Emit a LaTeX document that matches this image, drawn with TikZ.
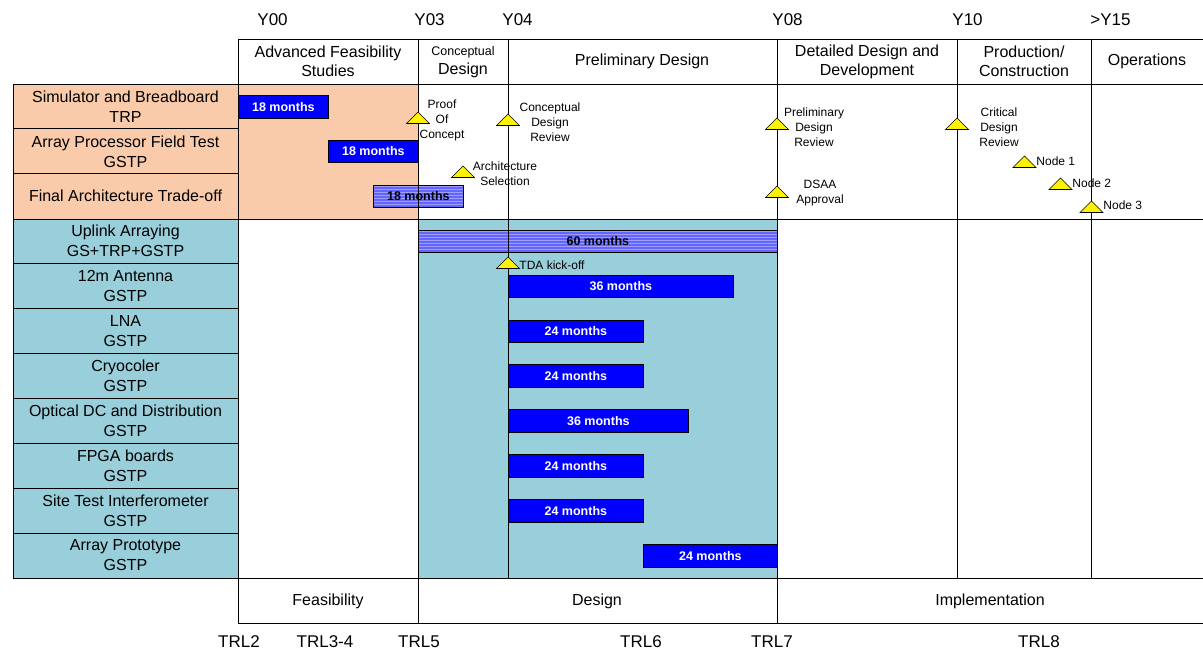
\documentclass[tikz,border=0pt]{standalone}
\usepackage{fontspec}
\setmainfont{Liberation Sans}
\usepackage{xcolor}

\definecolor{peach}{RGB}{249,203,170}
\definecolor{paleteal}{RGB}{153,206,219}
\definecolor{stripedark}{RGB}{100,100,255}
\definecolor{stripelight}{RGB}{158,158,255}

\begin{document}
\begin{tikzpicture}[x=1pt, y=-1pt, line width=0.9pt,
  yearlbl/.style={anchor=west, inner sep=0pt, font=\fontsize{17}{20}\selectfont},
  phase/.style={align=center, inner sep=0pt, font=\fontsize{16}{19}\selectfont},
  task/.style={align=center, inner sep=0pt, font=\fontsize{16}{20}\selectfont},
  mslbl/.style={align=center, inner sep=0pt, font=\fontsize{12}{15}\selectfont},
  bar/.style={draw=black, line width=0.7pt, fill=blue, text=white, anchor=north west,
    inner sep=0pt, minimum height=22.5pt, font=\bfseries\fontsize{12.5}{14}\selectfont},
  hbar/.style={bar, text=black, fill=stripedark, path picture={
    \foreach \s in {1.5,4.5,...,22.5}
      \draw[stripelight, line width=1.4pt]
        ([yshift=-\s pt]path picture bounding box.north west) --
        ([yshift=-\s pt]path picture bounding box.north east);}},
  mstone/.style={draw=black, line width=0.6pt, fill=yellow}]
  \def\rh{44.9}
  \def\ytop{84}
  \useasboundingbox (0,0) rectangle (1203,653);
  \fill[white] (0,0) rectangle (1203,653);

  % coloured blocks
  \fill[peach] (13,84) rectangle (418,219);
  \fill[paleteal] (13,219) rectangle (238,578);
  \fill[paleteal] (418,219) rectangle (777,578);

  % task labels
  \foreach \lbl [count=\i from 0] in {{Simulator and Breadboard\\TRP},
      {Array Processor Field Test\\GSTP}, {Final Architecture Trade-off},
      {Uplink Arraying\\GS+TRP+GSTP}, {12m Antenna\\GSTP}, {LNA\\GSTP},
      {Cryocoler\\GSTP}, {Optical DC and Distribution\\GSTP}, {FPGA boards\\GSTP},
      {Site Test Interferometer\\GSTP}, {Array Prototype\\GSTP}}
    \node[task] (task\i) at (125.5,{\ytop+\rh*\i+\rh/2}) {\lbl};

  % duration bars
  \foreach \i/\xa/\xb/\m/\st in {0/238/328/18/bar, 1/328/418/18/bar, 2/373/463/18/hbar,
      3/418/777/60/hbar, 4/508/733/36/bar, 5/508/643/24/bar, 6/508/643/24/bar,
      7/508/688/36/bar, 8/508/643/24/bar, 9/508/643/24/bar, 10/643/777/24/bar}{
    \pgfmathsetmacro\w{\xb-\xa}
    \node[\st, minimum width=\w pt] (bar\i) at (\xa,{\ytop+\rh*\i+11}) {\m\ months};
  }

  % grid
  \draw (238,39) -- (1203,39);
  \draw (13,84) -- (1203,84);
  \draw (13,219) -- (1203,219);
  \draw (13,578) -- (1203,578);
  \draw (238,623) -- (1203,623);
  \draw (13,84) -- (13,578);
  \foreach \i in {1,2,4,5,...,10}
    \draw (13,{\ytop+\rh*\i}) -- (238,{\ytop+\rh*\i});
  \foreach \x in {238,418,777}
    \draw (\x,39) -- (\x,623);
  \foreach \x in {508,957,1091}
    \draw (\x,39) -- (\x,578);

  % years
  \node[yearlbl] (y00) at (257,20) {Y00};
  \node[yearlbl] (y03) at (414,20) {Y03};
  \node[yearlbl] (y04) at (502,20) {Y04};
  \node[yearlbl] (y08) at (772,20) {Y08};
  \node[yearlbl] (y10) at (952,20) {Y10};
  \node[yearlbl] (y15) at (1090,20) {>Y15};

  % phases
  \node[phase] (afs) at (328,61.5) {Advanced Feasibility\\Studies};
  \node[phase] (cd) at (463,62) {{\fontsize{12.5}{15}\selectfont Conceptual}\\Design};
  \node[phase] (pd) at (642,61.5) {Preliminary Design};
  \node[phase] (ddd) at (867,61.5) {Detailed Design and\\Development};
  \node[phase] (prod) at (1024,61.5) {Production/\\Construction};
  \node[phase] (ops) at (1147,61.5) {Operations};

  \node[phase] (feas) at (328,601) {Feasibility};
  \node[phase] (des) at (597,601) {Design};
  \node[phase] (impl) at (990,601) {Implementation};

  % milestones
  \foreach \n/\x/\y in {poc/418/112, cdr/508/114, arch/463/166, pdr/777/118,
      dsaa/777/186, crit/957/118, n1/1024.5/156, n2/1060.5/178, n3/1091.5/201, tda/508/257}
    \draw[mstone] (\x,\y) coordinate (ms-\n) -- ++(-11.5,11.5) -- ++(23,0) -- cycle;

  \node[mslbl] (l-poc) at (442,120) {Proof\\Of\\Concept};
  \node[mslbl] (l-cdr) at (550,122) {Conceptual\\Design\\Review};
  \node[mslbl] (l-arch) at (505,174) {Architecture\\Selection};
  \node[mslbl] (l-pdr) at (814,127) {Preliminary\\Design\\Review};
  \node[mslbl] (l-dsaa) at (820,193.5) {DSAA\\Approval};
  \node[mslbl] (l-crit) at (999,127) {Critical\\Design\\Review};
  \node[mslbl, anchor=west] (l-n1) at (1036,161) {Node 1};
  \node[mslbl, anchor=west] (l-n2) at (1072,183) {Node 2};
  \node[mslbl, anchor=west] (l-n3) at (1103,205.5) {Node 3};
  \node[mslbl, anchor=west] (l-tda) at (519,265) {TDA kick-off};

  % readiness levels
  \foreach \t/\x in {TRL2/239, TRL3-4/325, TRL5/419, TRL6/641, TRL7/772, TRL8/1039}
    \node[yearlbl, anchor=center] (\t) at (\x,642) {\t};
\end{tikzpicture}
\end{document}
